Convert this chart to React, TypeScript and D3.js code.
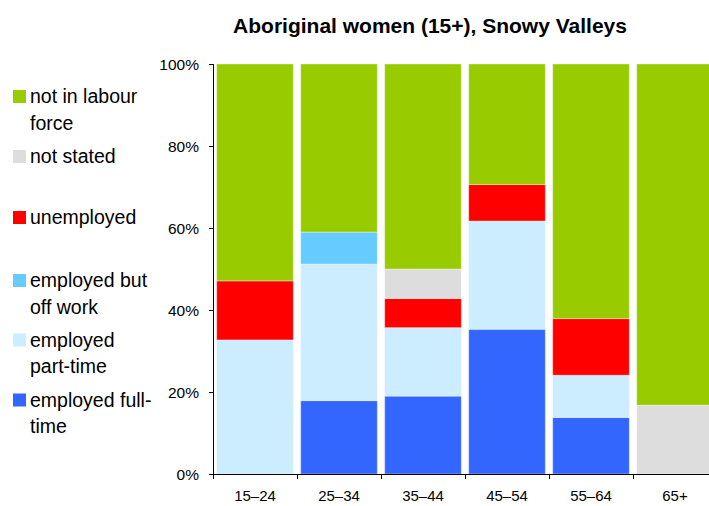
import React from "react";
import * as d3 from "d3";

const categories = ["15–24", "25–34", "35–44", "45–54", "55–64", "65+"];
const seriesKeys = ["fullTime", "partTime", "offWork", "unemployed", "notStated", "notInLabour"];
const seriesLabels = [
  ["employed full-", "time"],
  ["employed", "part-time"],
  ["employed but", "off work"],
  ["unemployed"],
  ["not stated"],
  ["not in labour", "force"],
];
const seriesColors = ["#3366FF", "#CCECFF", "#66CCFF", "#FF0000", "#DDDDDD", "#99CC00"];

const fullTime = [0, 17.9, 19.0, 35.3, 13.8, 0];
const partTime = [32.7, 33.3, 16.7, 26.4, 10.3, 0];
const offWork = [0, 7.8, 0, 0, 0, 0];
const unemployed = [14.4, 0, 7.1, 8.9, 13.8, 0];
const notStated = [0, 0, 7.2, 0, 0, 16.8];
const notInLabour = [52.9, 41.0, 50.0, 29.4, 62.1, 83.2];

const yTicks = [0, 20, 40, 60, 80, 100];
const title = "Aboriginal women (15+), Snowy Valleys";

const rows = categories.map((c, i) => ({
  cat: c,
  fullTime: fullTime[i],
  partTime: partTime[i],
  offWork: offWork[i],
  unemployed: unemployed[i],
  notStated: notStated[i],
  notInLabour: notInLabour[i],
}));

export default function App() {
  const W = 709, H = 506;
  const x = d3.scaleBand().domain(categories).range([213, 717]).paddingInner(0.088).paddingOuter(0.044);
  const y = d3.scaleLinear().domain([0, 100]).range([474, 64]);
  const stack = d3.stack<any>().keys(seriesKeys)(rows as any);
  const font = "'Liberation Sans', Arial, Helvetica, sans-serif";
  const legendBaselines = [406.5, 346.5, 287, 224, 163, 103];
  const lineH = 26.5;

  return (
    <svg width={W} height={H} style={{ position: "absolute", left: 0, top: 0, background: "#fff" }} fontFamily={font}>
      <rect x={0} y={0} width={W} height={H} fill="#fff" />
      <text x={430} y={33} textAnchor="middle" fontSize={21} fontWeight="bold" fill="#000">{title}</text>
      {stack.map((s, si) => (
        <g key={seriesKeys[si]} fill={seriesColors[si]}>
          {s.map((d, i) => {
            const h = y(d[0]) - y(d[1]);
            if (h <= 0.01) return null;
            return (
              <rect key={i} x={x(categories[i])!} y={y(d[1])} width={x.bandwidth()} height={h}
                stroke="#ffffff" strokeOpacity={0.35} strokeWidth={1} />
            );
          })}
        </g>
      ))}
      {/* y axis */}
      <line x1={213.5} x2={213.5} y1={64} y2={474.5} stroke="#000" strokeWidth={1} />
      {yTicks.map((t) => (
        <g key={t}>
          <line x1={209} x2={213.5} y1={Math.round(y(t)) + 0.5} y2={Math.round(y(t)) + 0.5} stroke="#000" strokeWidth={1} />
          <text x={199} y={y(t) + 5.5} textAnchor="end" fontSize={15.5} fill="#000">{t}%</text>
        </g>
      ))}
      {/* x axis */}
      <line x1={213} x2={W} y1={474.5} y2={474.5} stroke="#000" strokeWidth={1} />
      {categories.map((c, i) => {
        const left = x(c)! - (x.step() - x.bandwidth()) / 2;
        return (
          <g key={c}>
            <line x1={Math.round(left) + 0.5} x2={Math.round(left) + 0.5} y1={474.5} y2={479} stroke="#000" strokeWidth={1} />
            <text x={x(c)! + x.bandwidth() / 2} y={501} textAnchor="middle" fontSize={15} fill="#000">{c}</text>
          </g>
        );
      })}
      {/* legend */}
      {seriesKeys.map((k, si) => (
        <g key={k}>
          <rect x={13} y={legendBaselines[si] - 13} width={13} height={13} fill={seriesColors[si]} />
          {seriesLabels[si].map((l, li) => (
            <text key={li} x={30} y={legendBaselines[si] + li * lineH} fontSize={19.5} fill="#000">{l}</text>
          ))}
        </g>
      ))}
    </svg>
  );
}
